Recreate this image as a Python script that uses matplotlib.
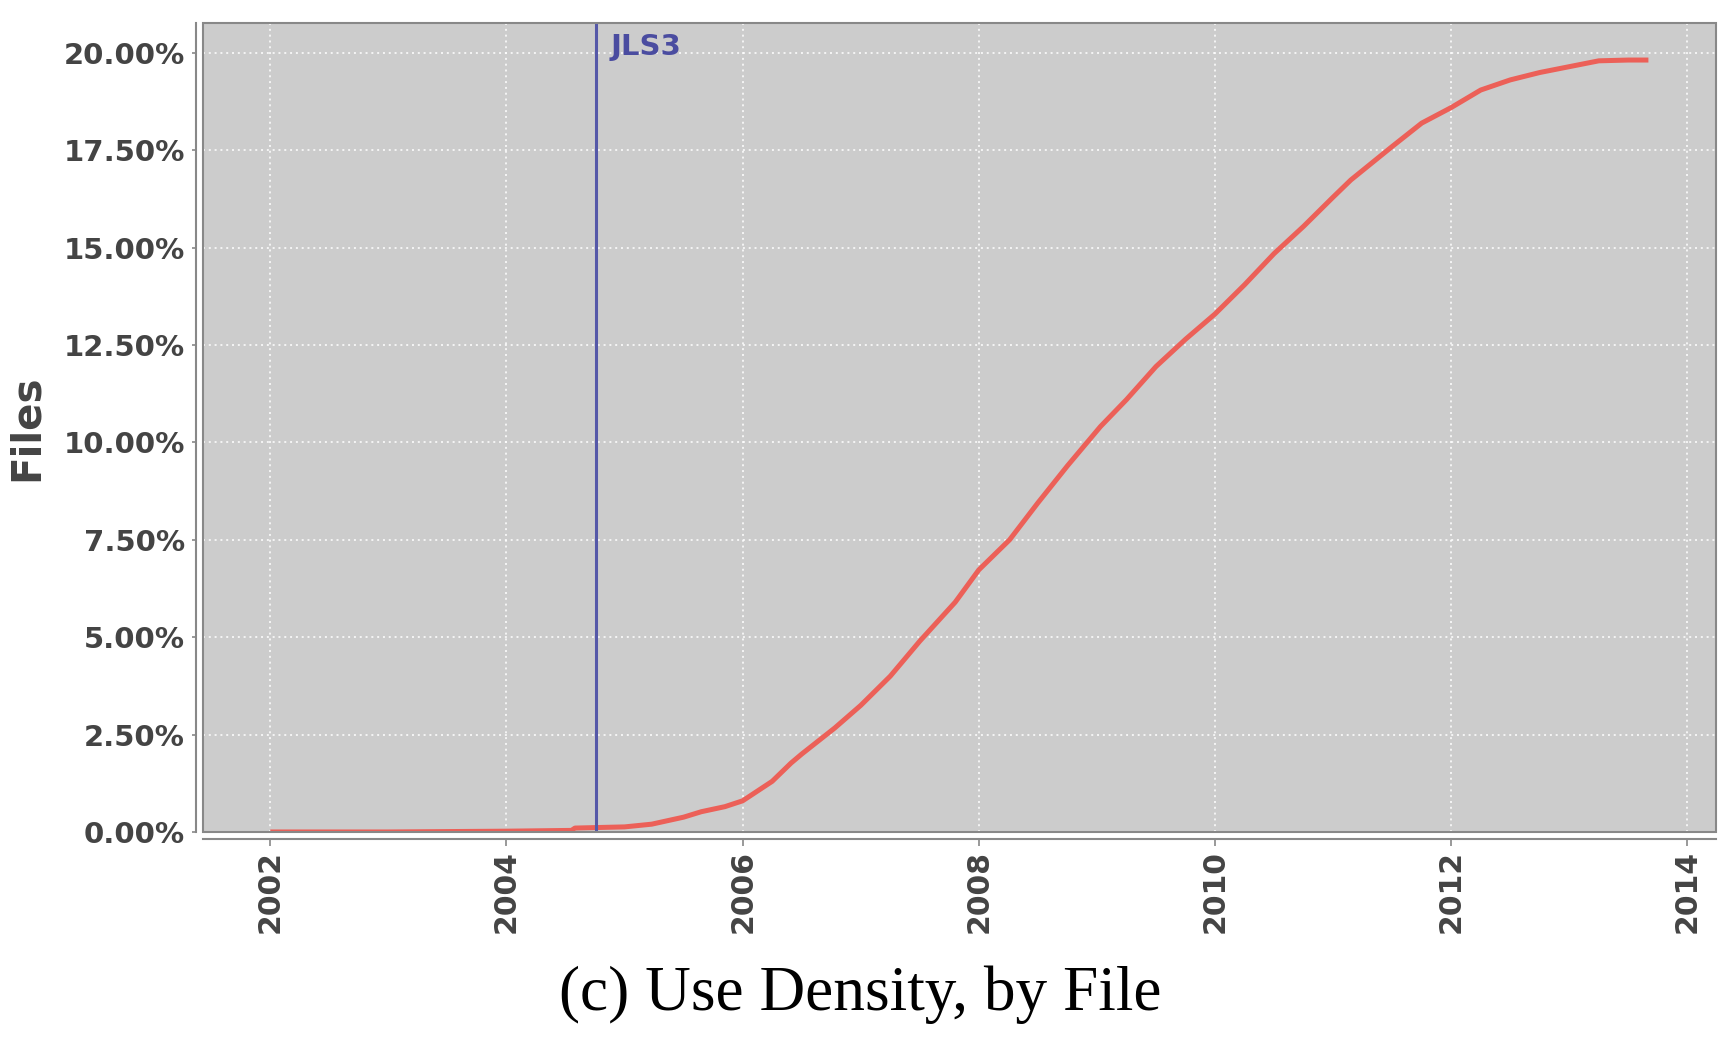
import matplotlib
matplotlib.use("Agg")
import matplotlib.pyplot as plt
from matplotlib.patches import Rectangle

# dados (ano, % de arquivos)
years = [2002.0, 2003.0, 2004.0, 2004.55, 2004.58, 2005.0, 2005.23, 2005.5, 2005.65,
         2005.85, 2006.0, 2006.25, 2006.41, 2006.5, 2006.78, 2007.0, 2007.25, 2007.5,
         2007.8, 2008.0, 2008.26, 2008.5, 2008.75, 2009.03, 2009.25, 2009.5, 2009.75,
         2010.0, 2010.25, 2010.5, 2010.75, 2011.0, 2011.15, 2011.5, 2011.75, 2012.0,
         2012.25, 2012.5, 2012.75, 2013.0, 2013.25, 2013.5, 2013.67]
files_pct = [0.0, 0.0, 0.02, 0.04, 0.1, 0.13, 0.2, 0.38, 0.52,
             0.65, 0.8, 1.3, 1.77, 2.0, 2.67, 3.25, 4.0, 4.9,
             5.9, 6.73, 7.5, 8.45, 9.4, 10.41, 11.1, 11.95, 12.65,
             13.3, 14.05, 14.85, 15.55, 16.3, 16.74, 17.6, 18.2, 18.6,
             19.05, 19.31, 19.5, 19.65, 19.8, 19.82, 19.82]

jls3_year = 2004.755
x_ticks = [2002, 2004, 2006, 2008, 2010, 2012, 2014]
y_ticks = [0, 2.5, 5, 7.5, 10, 12.5, 15, 17.5, 20]

fig = plt.figure(figsize=(17.32, 10.38), dpi=100)
ax = fig.add_axes([0.1172, 0.1985, 0.8734, 0.7793])
ax.set_facecolor('#cccccc')

# eixos deslocados (antes dos ticks, pois set_position recria os ticks)
for s in ['top', 'right']:
    ax.spines[s].set_visible(False)
for s in ['left', 'bottom']:
    ax.spines[s].set_position(('outward', 5))
    ax.spines[s].set_color('#888888')
    ax.spines[s].set_linewidth(1.5)
ax.add_patch(Rectangle((0, 0), 1, 1, transform=ax.transAxes, fill=False,
                       edgecolor='#888888', linewidth=1.5, clip_on=False, zorder=6))

# grade pontilhada branca
ax.grid(True, color='white', linestyle=(0, (1.3, 2.5)), linewidth=1.1)
ax.set_axisbelow(True)

ax.plot(years, files_pct, color='#ec6058', linewidth=3.6, solid_capstyle='butt', zorder=3)

# linha vertical JLS3
ax.axvline(jls3_year, color='#5558a8', linewidth=2.2, zorder=4)
ax.text(jls3_year + 0.13, 19.95, 'JLS3', color='#4a4ca0', fontsize=21,
        fontweight='bold', va='baseline', ha='left', zorder=5)

ax.set_xlim(2001.43, 2014.24)
ax.set_ylim(0, 20.77)

ax.tick_params(axis='y', length=3, width=1.2, color='#888888', pad=5)
ax.tick_params(axis='x', length=5, width=1.2, color='#888888', pad=3)

ax.set_xticks(x_ticks)
ax.set_yticks(y_ticks)
ax.set_yticklabels(['%.2f%%' % v for v in y_ticks], fontsize=21,
                   fontweight='bold', color='#444444')
ax.set_xticklabels([str(v) for v in x_ticks], rotation=90, fontsize=21.5,
                   fontweight='bold', color='#444444')

ax.set_ylabel('Files', fontsize=29, fontweight='bold', color='#444444', labelpad=12)

fig.text(0.4965, 0.027, '(c) Use Density, by File', fontsize=45.5,
         family='Liberation Serif', ha='center', va='baseline', color='black')

fig.savefig('out.png', dpi=100)
